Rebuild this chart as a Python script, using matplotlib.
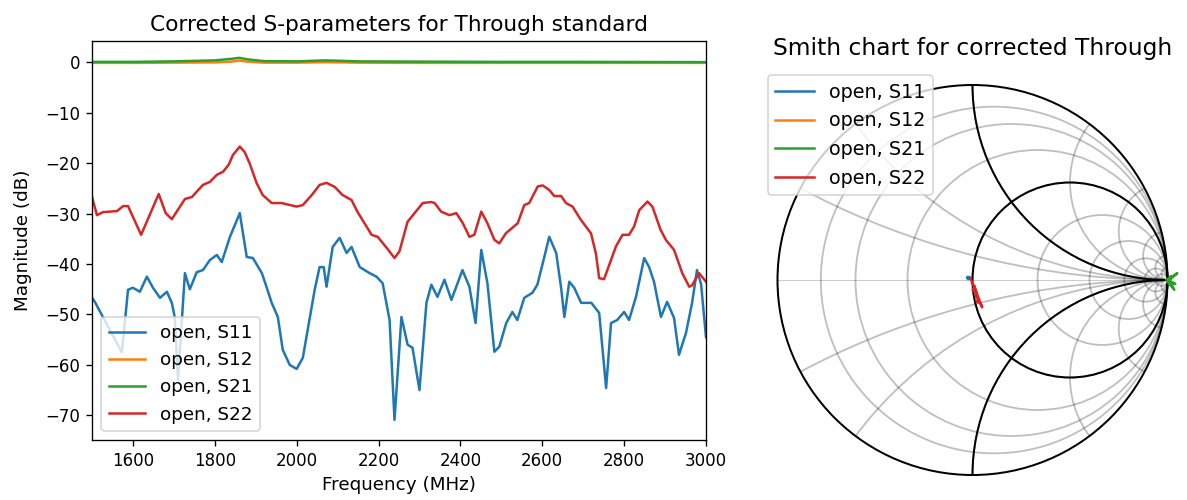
import numpy as np
import matplotlib
matplotlib.use("Agg")
import matplotlib.pyplot as plt
from matplotlib.patches import Circle

# S11 (blue)
s11_freq = [1500, 1507, 1524, 1573, 1588, 1600, 1617, 1634, 1649, 1666, 1683, 1695,
            1702, 1710, 1727, 1739, 1756, 1771, 1788, 1805, 1817, 1837, 1861, 1878,
            1893, 1915, 1927, 1939, 1954, 1966, 1983, 2000, 2015, 2032, 2044, 2056,
            2066, 2073, 2088, 2105, 2122, 2134, 2154, 2178, 2195, 2210, 2227, 2239,
            2256, 2271, 2283, 2300, 2317, 2329, 2344, 2361, 2378, 2405, 2422, 2437,
            2451, 2466, 2483, 2495, 2512, 2527, 2539, 2556, 2576, 2588, 2605, 2617,
            2634, 2646, 2654, 2666, 2678, 2695, 2720, 2739, 2756, 2768, 2783, 2800,
            2812, 2829, 2849, 2861, 2873, 2890, 2905, 2922, 2934, 2951, 2966, 2978,
            2988, 3000]
s11_db = [-46.7, -47.5, -50.1, -57.5, -45.1, -44.7, -45.5, -42.5, -44.7, -46.7, -45.5, -47.7,
          -50.5, -63.0, -41.8, -45.0, -41.6, -41.2, -39.2, -38.2, -39.6, -34.6, -29.9, -38.6,
          -38.8, -41.8, -44.7, -47.7, -50.5, -57.0, -60.0, -60.8, -58.6, -50.7, -45.1, -40.6,
          -40.6, -44.5, -36.6, -34.8, -37.8, -36.6, -40.6, -41.8, -42.5, -43.8, -51.1, -70.9,
          -50.5, -56.0, -56.6, -65.0, -47.7, -44.1, -46.5, -43.1, -47.1, -41.2, -44.5, -51.7,
          -37.2, -43.8, -57.4, -56.4, -51.7, -49.5, -51.1, -46.7, -45.7, -44.1, -38.6, -34.6,
          -37.8, -44.7, -50.5, -43.5, -44.7, -47.7, -47.7, -49.7, -64.6, -51.7, -51.1, -49.5,
          -51.1, -46.5, -38.8, -40.6, -43.5, -50.5, -47.5, -50.7, -58.0, -53.7, -47.7, -41.2,
          -44.0, -54.5]

# S22 (red)
s22_freq = [1500, 1512, 1527, 1561, 1576, 1588, 1620, 1663, 1680, 1695, 1727, 1744,
            1771, 1788, 1805, 1820, 1834, 1844, 1861, 1873, 1885, 1902, 1917, 1939,
            1963, 2000, 2015, 2037, 2056, 2073, 2093, 2112, 2134, 2149, 2171, 2183,
            2198, 2220, 2239, 2251, 2271, 2284, 2308, 2329, 2337, 2353, 2373, 2390,
            2406, 2422, 2434, 2451, 2466, 2483, 2495, 2511, 2540, 2556, 2568, 2589,
            2601, 2617, 2629, 2646, 2658, 2674, 2694, 2719, 2731, 2739, 2751, 2759,
            2780, 2796, 2812, 2824, 2837, 2857, 2869, 2889, 2902, 2922, 2942, 2959,
            2966, 2983, 2990, 3000]
s22_db = [-26.7, -30.3, -29.7, -29.5, -28.5, -28.5, -34.2, -26.1, -29.9, -31.1, -27.1, -26.7,
          -24.3, -23.7, -22.3, -21.7, -20.3, -18.4, -16.7, -17.8, -20.0, -23.9, -26.3, -27.9,
          -27.9, -28.6, -28.3, -26.3, -24.3, -23.9, -24.7, -26.3, -27.3, -29.7, -32.6, -34.2,
          -34.6, -36.8, -38.8, -37.5, -31.6, -30.3, -27.9, -27.7, -27.9, -29.6, -30.3, -29.9,
          -31.9, -34.6, -34.2, -29.6, -31.9, -35.2, -35.9, -33.9, -31.9, -28.3, -27.9, -24.6,
          -24.4, -25.3, -26.5, -26.5, -27.9, -28.6, -31.2, -33.9, -37.9, -42.8, -43.0, -41.2,
          -36.5, -34.2, -34.2, -32.6, -29.3, -27.6, -28.6, -33.2, -35.2, -37.2, -41.8, -44.5,
          -44.2, -41.8, -42.5, -43.5]

# S12 (orange) and S21 (green), close to 0 dB
s12_freq = [1500, 1600, 1700, 1800, 1840, 1860, 1880, 1920, 2000, 2070, 2150, 2300, 2500, 2700, 3000]
s12_db = [-0.1, -0.1, -0.05, 0.0, 0.15, 0.35, 0.15, -0.05, -0.05, 0.05, -0.05, -0.1, -0.1, -0.1, -0.1]
s21_freq = [1500, 1600, 1700, 1800, 1840, 1860, 1880, 1920, 2000, 2070, 2150, 2300, 2500, 2700, 3000]
s21_db = [0.1, 0.1, 0.2, 0.4, 0.7, 0.9, 0.6, 0.25, 0.2, 0.4, 0.2, 0.15, 0.1, 0.1, 0.05]

# reflection coefficients as seen on the Smith chart
sm_s11_re = [-0.025, -0.02, -0.028, -0.015, -0.022, -0.018]
sm_s11_im = [0.015, 0.008, 0.01, 0.012, 0.004, 0.014]
sm_s12_re = [1.0, 1.02, 1.0, 1.01, 0.995, 1.0]
sm_s12_im = [0.0, 0.01, -0.01, 0.0, 0.005, 0.0]
sm_s21_re = [1.0, 1.05, 1.01, 1.035, 1.0, 1.02, 0.995, 1.04, 1.0]
sm_s21_im = [0.0, 0.035, 0.0, -0.05, -0.01, 0.02, 0.0, -0.02, 0.0]
sm_s22_re = [-0.01, 0.0, 0.01, 0.0, 0.02, 0.015, 0.03, 0.02, 0.04, 0.05, 0.03, 0.01]
sm_s22_im = [0.01, -0.02, -0.04, -0.05, -0.07, -0.08, -0.10, -0.11, -0.12, -0.14, -0.09, -0.03]

labels = ['open, S11', 'open, S12', 'open, S21', 'open, S22']
colors = ['tab:blue', 'tab:orange', 'tab:green', 'tab:red']

fig = plt.figure(figsize=(1187 / 120, 500 / 120), dpi=120)

# magnitude plot
ax = fig.add_axes([92 / 1187, 60 / 500, 614 / 1187, 399.3 / 500])
ax.plot(s11_freq, s11_db, color=colors[0], label=labels[0])
ax.plot(s12_freq, s12_db, color=colors[1], label=labels[1])
ax.plot(s21_freq, s21_db, color=colors[2], label=labels[2])
ax.plot(s22_freq, s22_db, color=colors[3], label=labels[3])
ax.set_xlim(1500, 3000)
ax.set_ylim(-74.9, 4.3)
ax.set_title('Corrected S-parameters for Through standard', fontsize=13)
ax.set_xlabel('Frequency (MHz)', fontsize=11)
ax.set_ylabel('Magnitude (dB)', fontsize=11, labelpad=8)
ax.legend(loc='lower left', fontsize=11)

# smith chart, drawn the way skrf does it
sx = fig.add_axes([758 / 1187, 5.5 / 500, 429 / 1187, 429 / 500])
clipc = Circle((0, 0), 1.003, ec='k', fc=None, visible=False)
sx.add_patch(clipc)

r_light = np.logspace(3, -5, 9, base=.5)
x_light = np.hstack([np.logspace(2, -5, 8, base=.5), -1 * np.logspace(2, -5, 8, base=.5)])

sx.axhline(0, color='k', lw=.3, alpha=0.4, clip_path=clipc)
for r in r_light:
    sx.add_patch(Circle((r / (1. + r), 0), 1. / (1 + r), ec='black', fc='none', alpha=0.25, lw=1.1))
for x in x_light:
    arc = sx.add_patch(Circle((1, 1. / x), abs(1. / x), ec='black', fc='none', alpha=0.25, lw=1.1))
    arc.set_clip_path(clipc)
for r in [0, 1]:
    sx.add_patch(Circle((r / (1. + r), 0), 1. / (1 + r), ec='black', fc='none', lw=1.2))
for x in [1, -1]:
    arc = sx.add_patch(Circle((1, 1. / x), 1., ec='black', fc='none', lw=1.2))
    arc.set_clip_path(clipc)

sx.plot(sm_s11_re, sm_s11_im, color=colors[0], label=labels[0])
sx.plot(sm_s12_re, sm_s12_im, color=colors[1], label=labels[1])
sx.plot(sm_s21_re, sm_s21_im, color=colors[2], label=labels[2])
sx.plot(sm_s22_re, sm_s22_im, color=colors[3], label=labels[3])
sx.set_xlim(-1.1, 1.1)
sx.set_ylim(-1.1, 1.1)
sx.set_aspect('equal')
sx.axis('off')
sx.set_title('Smith chart for corrected Through', fontsize=14)
sx.legend(loc='upper left', fontsize=11.5)

fig.savefig('out.png', dpi=120)
